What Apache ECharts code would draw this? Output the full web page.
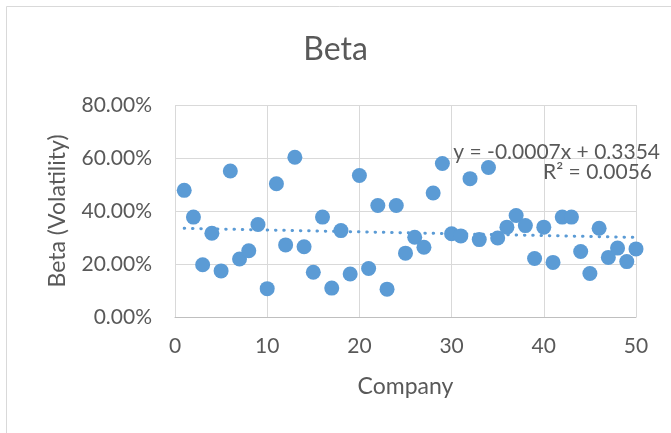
<!DOCTYPE html>
<html>
<head>
    <meta charset="utf-8">
    <script src="https://cdn.jsdelivr.net/npm/echarts@6/dist/echarts.min.js"></script>
    <style>
        body { margin: 0; background: #fff; }
    </style>
</head>
<body>
    <div id="main" style="width: 671px;height:433px;"></div>
    <script type="text/javascript">

// company number and beta (in %)
var company = [1,2,3,4,5,6,7,8,9,10,11,12,13,14,15,16,17,18,19,20,
               21,22,23,24,25,26,27,28,29,30,31,32,33,34,35,36,37,38,39,40,
               41,42,43,44,45,46,47,48,49,50];
var beta = [47.8,37.7,19.7,31.6,17.4,55.1,21.9,25.0,34.9,10.7,
            50.3,27.2,60.3,26.5,16.9,37.7,10.9,32.6,16.2,53.4,
            18.3,42.1,10.5,42.1,24.1,30.1,26.3,46.8,57.9,31.4,
            30.6,52.2,29.2,56.4,29.8,33.9,38.3,34.5,22.1,33.9,
            20.6,37.7,37.7,24.7,16.4,33.5,22.5,26.0,20.9,25.7];

// linear trendline ends
var trendX = [1, 50];
var trendY = [33.47, 30.04];

var eqLine1 = 'y = -0.0007x + 0.3354';
var eqLine2 = 'R² = 0.0056';

var points = [];
for (var i = 0; i < company.length; i++) {
    points.push([company[i], beta[i]]);
}
var trend = [];
for (var j = 0; j < trendX.length; j++) {
    trend.push([trendX[j], trendY[j]]);
}

var FONT = 'Lato';
var TXT = '#595959';

option = {
    animation: false,
    backgroundColor: '#fff',
    title: {
        text: 'Beta',
        left: 'center',
        top: 29,
        textStyle: {
            fontFamily: FONT,
            fontSize: 32,
            fontWeight: 'normal',
            color: TXT
        }
    },
    grid: {
        left: 175,
        top: 105,
        right: 35,
        bottom: 116,
        containLabel: false
    },
    xAxis: {
        type: 'value',
        min: 0,
        max: 50,
        interval: 10,
        name: 'Company',
        nameLocation: 'middle',
        nameGap: 58,
        nameTextStyle: { fontFamily: FONT, fontSize: 23, color: TXT },
        axisLine: { show: true, lineStyle: { color: '#bfbfbf', width: 1 } },
        axisTick: { show: false },
        axisLabel: {
            margin: 19,
            fontFamily: FONT,
            fontSize: 21,
            color: TXT
        },
        splitLine: { show: true, lineStyle: { color: '#d9d9d9', width: 1 } }
    },
    yAxis: {
        type: 'value',
        min: 0,
        max: 80,
        interval: 20,
        name: 'Beta (Volatility)',
        nameLocation: 'middle',
        nameGap: 106,
        nameTextStyle: { fontFamily: FONT, fontSize: 23, color: TXT },
        axisLine: { show: false },
        axisTick: { show: false },
        axisLabel: {
            margin: 23,
            fontFamily: FONT,
            fontSize: 21,
            color: TXT,
            formatter: function (v) { return v.toFixed(2) + '%'; }
        },
        splitLine: { show: true, lineStyle: { color: '#d9d9d9', width: 1 } }
    },
    graphic: [
        {
            type: 'rect',
            silent: true,
            shape: { x: 6.5, y: 6.5, width: 700, height: 500 },
            style: { fill: 'none', stroke: '#d9d9d9', lineWidth: 1 }
        },
        {
            type: 'text',
            right: 11,
            top: 142,
            z: 10,
            style: {
                text: eqLine1,
                fontFamily: FONT,
                fontSize: 21,
                fill: TXT
            }
        },
        {
            type: 'text',
            right: 19,
            top: 162,
            z: 10,
            style: {
                text: eqLine2,
                fontFamily: FONT,
                fontSize: 21,
                fill: TXT
            }
        }
    ],
    series: [
        {
            name: 'Beta',
            type: 'scatter',
            symbol: 'circle',
            symbolSize: 15,
            itemStyle: { color: '#5b9bd5', opacity: 1 },
            data: points,
            z: 3
        },
        {
            name: 'Linear (Beta)',
            type: 'line',
            symbol: 'none',
            lineStyle: {
                color: '#5b9bd5',
                width: 3,
                type: [0.5, 7.8],
                cap: 'round'
            },
            data: trend,
            z: 2
        }
    ]
};

var myChart = echarts.init(document.getElementById('main'));
myChart.setOption(option);

    </script>
</body>
</html>
